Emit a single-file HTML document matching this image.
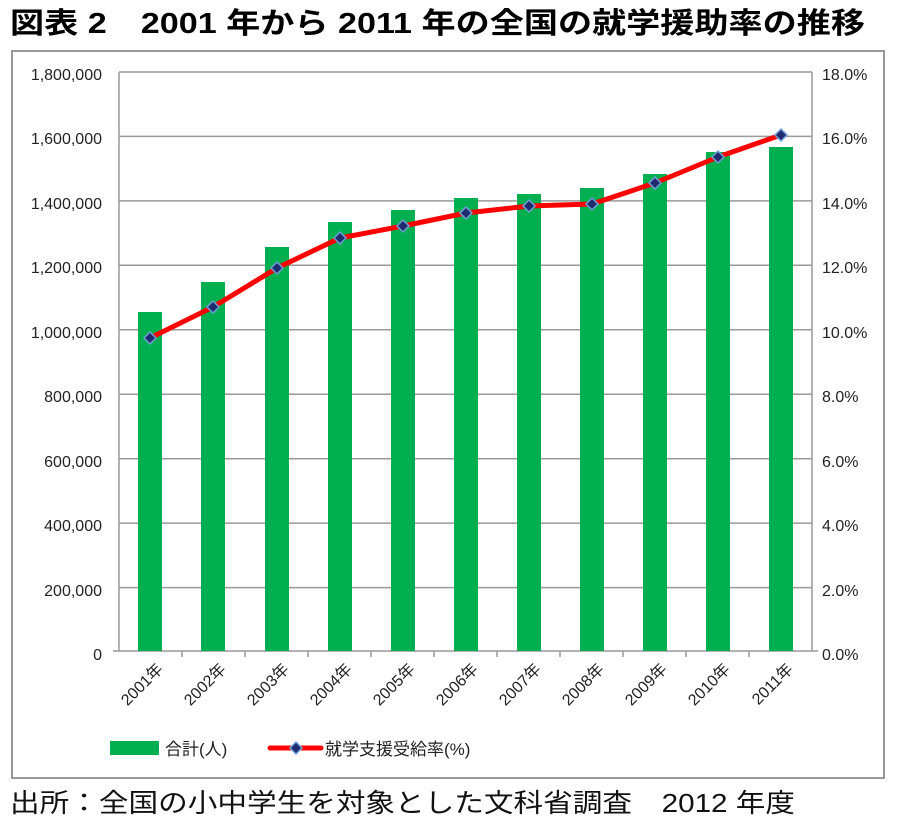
<!DOCTYPE html>
<html><head><meta charset="utf-8"><style>
body{margin:0;background:#fff;width:900px;height:823px;overflow:hidden}
svg{display:block}
</style></head><body>
<svg width="900" height="823" xmlns="http://www.w3.org/2000/svg" font-family="'Liberation Sans','Noto Sans CJK JP',sans-serif">
<text x="10" y="33" font-size="29" font-weight="bold" fill="#000" textLength="855" lengthAdjust="spacingAndGlyphs">図表 2　2001 年から 2011 年の全国の就学援助率の推移</text>
<rect x="12" y="51" width="872" height="727" fill="#fff" stroke="#999" stroke-width="2"/>
<g stroke="#999" stroke-width="1.5">
<line x1="119" y1="72" x2="812" y2="72"/><line x1="119" y1="136.4" x2="812" y2="136.4"/>
<line x1="119" y1="200.9" x2="812" y2="200.9"/><line x1="119" y1="265.3" x2="812" y2="265.3"/>
<line x1="119" y1="329.8" x2="812" y2="329.8"/><line x1="119" y1="394.2" x2="812" y2="394.2"/>
<line x1="119" y1="458.7" x2="812" y2="458.7"/><line x1="119" y1="523.1" x2="812" y2="523.1"/>
<line x1="119" y1="587.6" x2="812" y2="587.6"/>
<line x1="119" y1="72" x2="119" y2="651"/><line x1="812" y1="72" x2="812" y2="651"/>
<line x1="113" y1="651" x2="818" y2="651"/>
</g>
<g stroke="#999" stroke-width="1.5">
<line x1="182" y1="651" x2="182" y2="657"/><line x1="245" y1="651" x2="245" y2="657"/><line x1="308" y1="651" x2="308" y2="657"/><line x1="371" y1="651" x2="371" y2="657"/><line x1="434" y1="651" x2="434" y2="657"/><line x1="497" y1="651" x2="497" y2="657"/><line x1="560" y1="651" x2="560" y2="657"/><line x1="623" y1="651" x2="623" y2="657"/><line x1="686" y1="651" x2="686" y2="657"/><line x1="749" y1="651" x2="749" y2="657"/>
</g>
<g fill="#00b050">
<rect x="138" y="312" width="24" height="339"/><rect x="201" y="282" width="24" height="369"/>
<rect x="265" y="247" width="24" height="404"/><rect x="328" y="222" width="24" height="429"/>
<rect x="391" y="210" width="24" height="441"/><rect x="454" y="198" width="24" height="453"/>
<rect x="517" y="194" width="24" height="457"/><rect x="580" y="188" width="24" height="463"/>
<rect x="643" y="174" width="24" height="477"/><rect x="706" y="152" width="24" height="499"/>
<rect x="769" y="147" width="24" height="504"/>
</g>
<polyline points="150,338 213,307 277,268 340,238 403,226 466,213 529,206 592,204 655,183 718,157 781,135" fill="none" stroke="#ff0000" stroke-width="5" stroke-linejoin="round"/>
<g fill="#1f2d6e" stroke="#6fa0d8" stroke-width="1.5">
<path d="M150,332l6,6-6,6-6-6z"/><path d="M213,301l6,6-6,6-6-6z"/><path d="M277,262l6,6-6,6-6-6z"/><path d="M340,232l6,6-6,6-6-6z"/><path d="M403,220l6,6-6,6-6-6z"/><path d="M466,207l6,6-6,6-6-6z"/><path d="M529,200l6,6-6,6-6-6z"/><path d="M592,198l6,6-6,6-6-6z"/><path d="M655,177l6,6-6,6-6-6z"/><path d="M718,151l6,6-6,6-6-6z"/><path d="M781,129l6,6-6,6-6-6z"/>
</g>
<g font-size="16" fill="#222" text-anchor="end">
<text x="102" y="80">1,800,000</text><text x="102" y="144">1,600,000</text><text x="102" y="209">1,400,000</text><text x="102" y="273">1,200,000</text><text x="102" y="338">1,000,000</text><text x="102" y="402">800,000</text><text x="102" y="467">600,000</text><text x="102" y="531">400,000</text><text x="102" y="596">200,000</text><text x="102" y="660">0</text>
</g>
<g font-size="16" fill="#222">
<text x="822" y="80">18.0%</text><text x="822" y="144">16.0%</text><text x="822" y="209">14.0%</text><text x="822" y="273">12.0%</text><text x="822" y="338">10.0%</text><text x="822" y="402">8.0%</text><text x="822" y="467">6.0%</text><text x="822" y="531">4.0%</text><text x="822" y="596">2.0%</text><text x="822" y="660">0.0%</text>
</g>
<g font-size="16" fill="#222" text-anchor="end">
<text transform="translate(164,670) rotate(-45)">2001年</text><text transform="translate(227,670) rotate(-45)">2002年</text><text transform="translate(290,670) rotate(-45)">2003年</text><text transform="translate(353,670) rotate(-45)">2004年</text><text transform="translate(416,670) rotate(-45)">2005年</text><text transform="translate(479,670) rotate(-45)">2006年</text><text transform="translate(542,670) rotate(-45)">2007年</text><text transform="translate(605,670) rotate(-45)">2008年</text><text transform="translate(668,670) rotate(-45)">2009年</text><text transform="translate(731,670) rotate(-45)">2010年</text><text transform="translate(794,670) rotate(-45)">2011年</text>
</g>
<rect x="110" y="741" width="49" height="14" fill="#00b050"/>
<text x="165" y="755" font-size="17" fill="#222">合計(人)</text>
<line x1="270" y1="748" x2="321" y2="748" stroke="#ff0000" stroke-width="5" stroke-linecap="round"/>
<path d="M296,742l6,6-6,6-6-6z" fill="#1f2d6e" stroke="#6fa0d8" stroke-width="1.5"/>
<text x="325" y="755" font-size="17" fill="#222">就学支援受給率(%)</text>
<text x="10" y="812" font-size="26" fill="#111" textLength="785" lengthAdjust="spacingAndGlyphs">出所：全国の小中学生を対象とした文科省調査　2012 年度</text>
</svg>
</body></html>
